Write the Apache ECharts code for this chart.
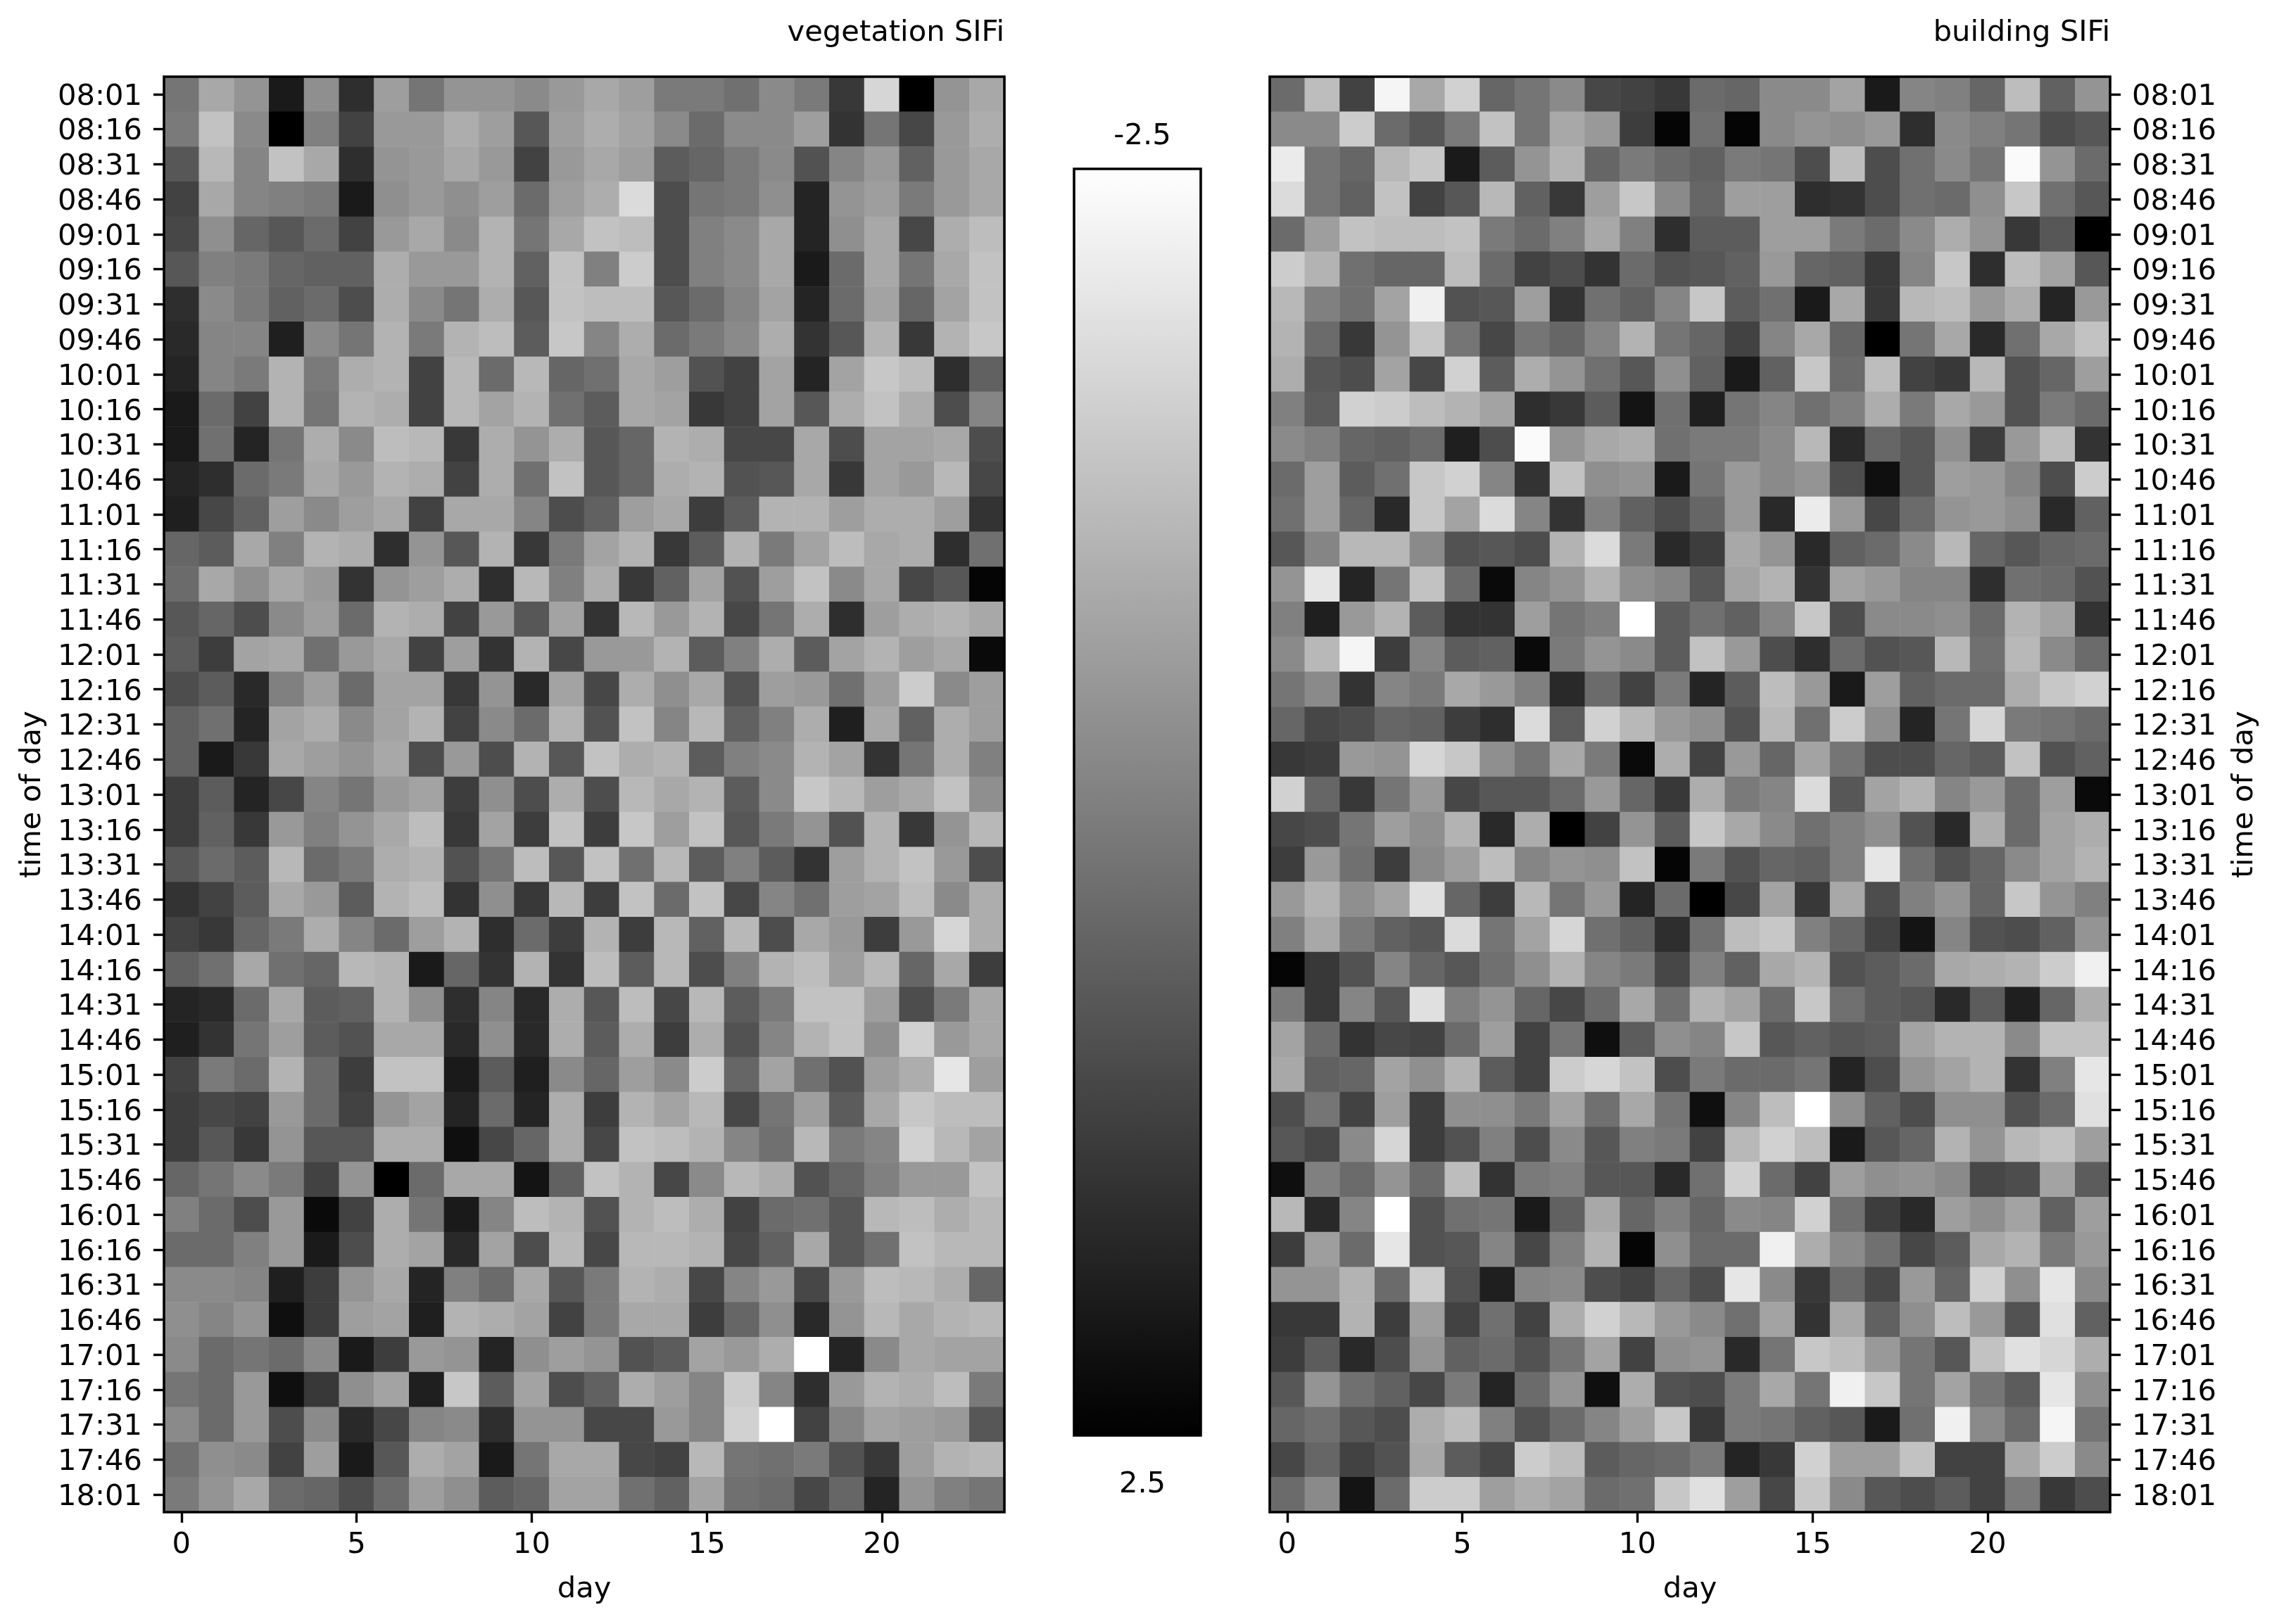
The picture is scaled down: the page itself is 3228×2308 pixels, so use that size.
<!DOCTYPE html>
<html>
<head>
<meta charset="utf-8">
<style>html,body{margin:0;padding:0;background:#fff}#c{width:3228px;height:2308px}</style>
<script src="https://cdn.jsdelivr.net/npm/echarts@6/dist/echarts.min.js"></script>
</head>
<body>
<div id="c"></div>
<script>
const times = ['08:01','08:16','08:31','08:46','09:01','09:16','09:31','09:46','10:01','10:16','10:31','10:46','11:01','11:16','11:31','11:46','12:01','12:16','12:31','12:46','13:01','13:16','13:31','13:46','14:01','14:16','14:31','14:46','15:01','15:16','15:31','15:46','16:01','16:16','16:31','16:46','17:01','17:16','17:31','17:46','18:01'];
const days = ['0','1','2','3','4','5','6','7','8','9','10','11','12','13','14','15','16','17','18','19','20','21','22','23'];
const titles = ['vegetation SIFi','building SIFi'];
const colorbarEnds = ['-2.5','2.5'];
// values in tenths of a SIFi unit, one row per time of day
const vegetationTenths = [
[2,-8,-4,20,-3,16,-6,2,-4,-4,-2,-5,-8,-6,1,1,3,-2,1,14,-17,25,-4,-8],
[1,-13,-2,25,0,12,-5,-5,-9,-6,8,-6,-9,-7,-2,4,-2,-2,-6,15,2,11,-5,-9],
[8,-11,-1,-13,-8,16,-4,-5,-8,-5,12,-5,-8,-6,7,5,1,-2,9,-1,-5,6,-5,-8],
[12,-8,-1,0,1,20,-3,-5,-3,-6,4,-6,-9,-18,10,2,1,-3,18,-4,-6,1,-5,-8],
[11,-3,5,8,4,12,-5,-8,-2,-10,2,-8,-13,-12,10,0,-2,-8,18,-3,-8,11,-9,-12],
[8,0,1,5,6,6,-9,-5,-5,-10,6,-13,0,-15,10,0,-2,-8,20,4,-8,2,-8,-13],
[16,-2,1,6,4,10,-9,-2,2,-9,8,-13,-12,-12,8,4,-1,-7,18,4,-7,5,-7,-13],
[17,-1,-1,19,-2,2,-10,1,-10,-12,7,-14,-1,-9,4,1,-2,-9,15,8,-10,14,-10,-14],
[18,-1,1,-10,1,-9,-10,12,-11,4,-11,5,3,-8,-6,9,12,-7,18,-7,-14,-12,16,6],
[20,4,12,-10,2,-10,-9,12,-11,-7,-10,3,7,-8,-7,14,12,-7,8,-9,-13,-9,10,-1],
[20,3,18,2,-9,-2,-12,-11,14,-9,-4,-9,8,5,-10,-9,11,11,-8,10,-7,-7,-8,10],
[18,16,4,1,-8,-5,-10,-9,12,-9,3,-13,8,5,-9,-10,9,8,-8,14,-7,-5,-11,11],
[19,11,6,-6,-2,-6,-8,12,-8,-8,-1,10,6,-6,-8,13,7,-10,-10,-6,-9,-9,-6,15],
[5,7,-8,0,-10,-9,16,-4,8,-10,14,1,-7,-10,14,7,-10,1,-7,-12,-8,-9,16,3],
[4,-8,-3,-8,-5,15,-4,-6,-9,16,-11,0,-9,14,6,-7,9,-6,-13,-2,-8,11,8,24],
[8,5,10,-2,-6,4,-10,-9,12,-5,8,-7,15,-11,-5,-10,11,2,-9,16,-6,-9,-10,-8],
[7,13,-7,-8,3,-5,-8,12,-6,15,-10,11,-5,-5,-10,7,0,-9,7,-7,-10,-6,-8,23],
[10,7,17,0,-6,4,-7,-7,14,-4,17,-7,11,-9,-3,-8,9,-6,-5,3,-6,-15,-2,-6],
[6,3,18,-7,-9,-2,-7,-10,12,-2,4,-10,9,-13,-1,-11,6,0,-9,19,-8,6,-9,-6],
[6,20,14,-8,-6,-4,-8,10,-5,10,-10,8,-13,-9,-10,7,0,-2,-10,-7,15,2,-9,0],
[13,7,18,11,-1,2,-5,-7,13,-3,10,-9,10,-11,-8,-10,7,-2,-14,-11,-6,-8,-13,-3],
[13,6,14,-5,0,-4,-8,-12,14,-7,13,-13,13,-14,-6,-13,8,1,-4,9,-10,14,-4,-11],
[8,4,7,-11,4,1,-9,-10,9,2,-12,8,-13,3,-11,7,0,7,15,-6,-10,-13,-5,10],
[15,12,7,-8,-5,7,-10,-12,15,-3,14,-11,13,-13,4,-13,11,-1,3,-6,-7,-12,-2,-9],
[12,14,5,1,-9,-1,4,-6,-10,16,4,13,-10,13,-11,6,-11,10,-8,-5,13,-5,-17,-9],
[6,3,-8,3,5,-11,-10,20,5,15,-10,15,-12,7,-11,10,0,-10,-12,-6,-11,5,-8,13],
[18,17,4,-8,7,6,-10,-3,16,-1,17,-9,8,-12,11,-11,7,1,-13,-13,-6,10,1,-8],
[19,15,2,-6,7,9,-8,-8,17,-3,17,-9,7,-9,13,-9,9,-1,-10,-13,-3,-16,-5,-8],
[12,1,4,-10,4,13,-13,-13,20,7,19,-2,5,-6,-2,-15,5,-7,3,9,-6,-9,-20,-6],
[13,11,12,-5,4,12,-4,-7,18,4,18,-9,13,-10,-7,-11,11,2,-6,7,-8,-14,-12,-12],
[13,8,14,-4,8,8,-9,-9,22,11,5,-9,11,-13,-12,-10,-1,3,-11,1,-1,-16,-11,-7],
[5,2,-2,1,12,-4,25,4,-8,-8,21,6,-13,-10,11,-2,-11,-9,9,5,0,-5,-5,-13],
[0,4,10,-5,23,12,-9,2,20,-1,-12,-10,9,-10,-12,-9,12,4,3,8,-11,-12,-9,-11],
[4,4,0,-5,20,10,-9,-7,17,-7,10,-11,11,-11,-11,-10,11,6,-8,8,3,-13,-11,-11],
[-2,-2,-1,19,13,-4,-8,18,0,4,-8,8,1,-10,-9,11,-1,-5,11,-5,-12,-11,-9,5],
[-3,-1,-4,22,13,-6,-7,19,-10,-9,-7,12,1,-8,-8,13,5,-3,17,-4,-11,-8,-10,-11],
[-2,4,2,4,-2,20,13,-5,-4,18,-3,-6,-4,9,7,-7,-5,-9,-25,18,-2,-8,-7,-7],
[2,4,-5,22,14,-3,-7,19,-14,7,-7,10,6,-9,-6,-1,-15,-1,16,-5,-10,-9,-12,1],
[-2,4,-5,10,-2,17,11,-1,-2,16,-4,-4,11,11,-5,-1,-16,-25,12,-1,-7,-6,-5,8],
[3,-3,-2,12,-6,20,8,-9,-7,20,2,-8,-8,11,12,-11,2,3,1,9,14,-6,-10,-11],
[1,-4,-8,4,5,10,4,-6,-3,7,5,-7,-7,3,6,-7,3,4,11,5,18,-4,0,2]
];
const buildingTenths = [
[4,-12,12,-23,-8,-16,5,2,-2,11,12,14,4,5,-2,-2,-7,20,-1,0,5,-12,6,-4],
[-2,-2,-15,4,8,1,-13,2,-8,-5,13,24,3,24,-2,-4,-3,-5,16,-2,0,2,10,8],
[-21,2,5,-11,-14,20,7,-4,-10,5,1,4,6,1,2,10,-12,10,3,-2,2,-24,-4,4],
[-18,2,6,-13,12,8,-11,6,14,-6,-14,-2,5,-6,-6,16,15,10,3,4,-3,-14,3,8],
[4,-6,-13,-12,-12,-13,1,4,0,-8,0,16,7,7,-6,-6,1,4,-2,-9,-4,14,8,25],
[-15,-10,3,5,5,-12,4,12,10,15,4,9,8,6,-5,5,6,14,-1,-14,16,-12,-7,8],
[-11,0,3,-7,-22,9,8,-6,15,3,6,-1,-14,7,3,20,-8,14,-11,-12,-5,-9,18,-5],
[-10,4,14,-4,-14,2,11,2,5,-1,-10,2,5,12,-1,-8,5,25,2,-8,17,3,-8,-13],
[-9,8,10,-7,11,-16,7,-9,-4,3,8,-3,6,20,6,-14,4,-12,12,14,-11,9,5,-6],
[0,7,-16,-15,-12,-10,-7,16,14,7,21,3,19,2,-1,3,0,-9,1,-8,-5,9,1,4],
[-2,0,5,6,4,19,10,-24,-4,-8,-9,3,1,1,-2,-11,17,5,8,-3,13,-5,-12,15],
[4,-6,7,3,-14,-16,-1,15,-13,-3,-4,20,2,-5,-2,-4,10,22,8,-6,-5,-1,10,-15],
[3,-6,5,17,-14,-7,-18,-1,15,0,6,10,5,-5,17,-21,-5,11,4,-4,-5,-3,17,6],
[8,-1,-11,-11,-2,9,8,10,-10,-18,1,17,13,-8,-4,17,6,4,-2,-11,5,8,5,4],
[-4,-20,18,2,-13,4,23,-1,-4,-10,-3,-1,8,-7,-10,15,-7,-5,-1,-1,16,3,4,9],
[0,19,-5,-10,7,15,15,-6,2,0,-25,7,3,6,-1,-14,10,-2,-2,-3,4,-10,-7,15],
[-2,-11,-23,13,-1,7,6,23,1,-4,-2,7,-13,-5,10,16,4,9,8,-11,3,-11,-2,4],
[2,-2,15,-1,1,-8,-5,0,17,4,12,1,18,7,-12,-5,20,-6,6,4,4,-9,-14,-16],
[5,11,10,5,6,13,16,-18,7,-16,-11,-5,-3,9,-11,3,-15,-3,18,2,-17,1,2,4],
[14,13,-5,-4,-17,-14,-3,2,-8,1,23,-9,12,-5,5,-7,2,10,10,5,7,-13,9,6],
[-16,5,14,2,-5,11,8,8,4,-5,5,14,-9,1,-1,-18,8,-7,-10,-1,-5,4,-6,23],
[11,10,2,-6,-3,-10,17,-9,25,12,-4,7,-14,-8,-2,3,0,-3,9,17,-9,4,-7,-9],
[13,-5,3,13,-2,-6,-12,-1,-4,-3,-13,24,1,9,5,6,0,-20,3,9,5,-2,-7,-10],
[-5,-10,-3,-7,-19,5,13,-11,2,-5,18,4,25,11,-7,14,-8,10,0,-4,5,-14,-4,0],
[0,-8,1,6,8,-18,2,-7,-17,3,6,16,3,-12,-14,0,5,12,21,-1,9,10,6,-4],
[24,14,9,-1,5,8,3,-3,-10,-1,1,11,0,6,-8,-10,9,7,4,-8,-9,-10,-15,-22],
[1,14,-1,8,-19,0,-4,5,11,4,-8,3,-10,-7,4,-14,3,7,8,17,7,19,5,-9],
[-7,4,15,11,12,4,-6,12,2,22,7,-3,-1,-14,8,6,8,7,-7,-10,-10,-2,-13,-13],
[-8,6,5,-7,-3,-10,7,12,-15,-17,-13,10,1,4,4,2,18,10,-4,-7,-10,15,0,-20],
[10,2,12,-6,13,-3,-3,1,-7,3,-8,2,22,-1,-12,-25,-3,6,10,-3,-3,9,4,-19],
[8,11,-2,-17,13,9,0,10,-2,8,0,1,12,-11,-16,-12,20,8,5,-10,-4,-11,-13,-6],
[22,0,4,-4,4,-12,15,1,0,8,8,17,3,-16,4,12,-6,-3,-4,-2,11,10,-7,7],
[-11,17,-1,-25,9,3,2,20,6,-8,5,0,5,-2,-1,-16,3,13,17,-6,-3,-7,6,-6],
[13,-6,4,-20,9,8,-1,11,0,-10,24,-3,4,4,-22,-9,-2,3,11,7,-8,-10,1,-5],
[-4,-4,-10,4,-15,9,19,-1,-2,10,12,5,10,-20,-2,14,4,11,-5,5,-16,-3,-20,-2],
[14,14,-10,13,-6,12,3,12,-9,-16,-11,-5,-2,3,-7,15,-8,6,-3,-12,-5,9,-19,6],
[13,7,17,10,-4,6,4,9,2,-7,12,-3,-4,17,2,-14,-12,-5,2,8,-13,-19,-17,-9],
[8,-4,3,6,11,1,18,4,-4,22,-9,9,10,1,-8,2,-22,-14,2,-7,2,7,-20,-3],
[5,3,8,10,-9,-12,0,9,4,-1,-6,-14,14,1,2,6,8,20,3,-22,-2,4,-23,2],
[11,5,12,9,-8,7,11,-15,-12,7,5,4,1,18,14,-16,-6,-6,-13,12,12,-8,-15,-2],
[4,-2,21,4,-15,-15,-6,-9,-7,4,3,-14,-19,-6,11,-14,-2,8,10,7,12,1,14,10]
];

const FONT = 'DejaVu Sans';
const FS = 41.67;
const LW = 3.6;
const GW = 1194, GH = 2040, GT = 109;
const GL = [233, 1804];

function toCells(rows){
  const out = [];
  rows.forEach((r, y) => r.forEach((v, x) => out.push([x, y, v / 10])));
  return out;
}
const txt = {fontFamily: FONT, fontSize: FS, color: '#000'};
function xAxis(i){
  return {
    type:'category', gridIndex:i, data:days, boundaryGap:true,
    name:'day', nameLocation:'middle', nameGap:89, nameTextStyle:txt,
    axisLine:{show:false},
    axisTick:{show:true, alignWithLabel:true, length:15, lineStyle:{color:'#000', width:3.4}, interval:(idx)=>idx%5===0},
    axisLabel:Object.assign({show:true, margin:26, interval:(idx)=>idx%5===0}, txt),
    splitLine:{show:false}
  };
}
function yAxis(i, pos, gap){
  return {
    type:'category', gridIndex:i, data:times, inverse:true, position:pos, boundaryGap:true,
    name:'time of day', nameLocation:'middle', nameGap:gap, nameRotate:90, nameTextStyle:txt,
    axisLine:{show:false},
    axisTick:{show:true, alignWithLabel:true, length:15, lineStyle:{color:'#000', width:3.4}, interval:0},
    axisLabel:Object.assign({show:true, margin:31, interval:0, verticalAlign:'top', lineHeight:8}, txt),
    splitLine:{show:false}
  };
}
function frame(x, y, w, h){
  return {type:'rect', z:100, silent:true, shape:{x:x, y:y, width:w, height:h}, style:{fill:'none', stroke:'#000', lineWidth:LW}};
}
function endLabel(text, y){
  return {type:'text', z:100, silent:true, x:1623, y:y, style:{text:text, fontFamily:FONT, fontSize:FS, fill:'#000', align:'center', verticalAlign:'middle'}};
}
const chart = echarts.init(document.getElementById('c'), null, {renderer:'canvas'});
chart.setOption({
  animation:false,
  backgroundColor:'#fff',
  textStyle:{fontFamily:FONT},
  title:[
    {text:titles[0], right:3228-1427, top:26, textStyle:{fontFamily:FONT, fontSize:FS, fontWeight:'normal', color:'#000'}, padding:0},
    {text:titles[1], right:3228-2998, top:26, textStyle:{fontFamily:FONT, fontSize:FS, fontWeight:'normal', color:'#000'}, padding:0}
  ],
  grid:[
    {left:GL[0], top:GT, width:GW, height:GH, show:false},
    {left:GL[1], top:GT, width:GW, height:GH, show:false}
  ],
  xAxis:[xAxis(0), xAxis(1)],
  yAxis:[yAxis(0,'left',166), yAxis(1,'right',170)],
  visualMap:{
    type:'continuous', min:-2.5, max:2.5, inverse:true, calculable:false, hoverLink:false,
    inRange:{color:['#ffffff','#000000']},
    seriesIndex:[0,1],
    orient:'vertical', left:1526, top:240,
    itemWidth:180, itemHeight:1800, showLabel:false, padding:0
  },
  graphic:[frame(GL[0],GT,GW,GH), frame(GL[1],GT,GW,GH), frame(1526,240,180,1800), endLabel(colorbarEnds[0],194), endLabel(colorbarEnds[1],2110)],
  series:[
    {type:'heatmap', xAxisIndex:0, yAxisIndex:0, data:toCells(vegetationTenths), progressive:0, itemStyle:{borderWidth:0}, emphasis:{disabled:true}},
    {type:'heatmap', xAxisIndex:1, yAxisIndex:1, data:toCells(buildingTenths), progressive:0, itemStyle:{borderWidth:0}, emphasis:{disabled:true}}
  ]
});
</script>
</body>
</html>
